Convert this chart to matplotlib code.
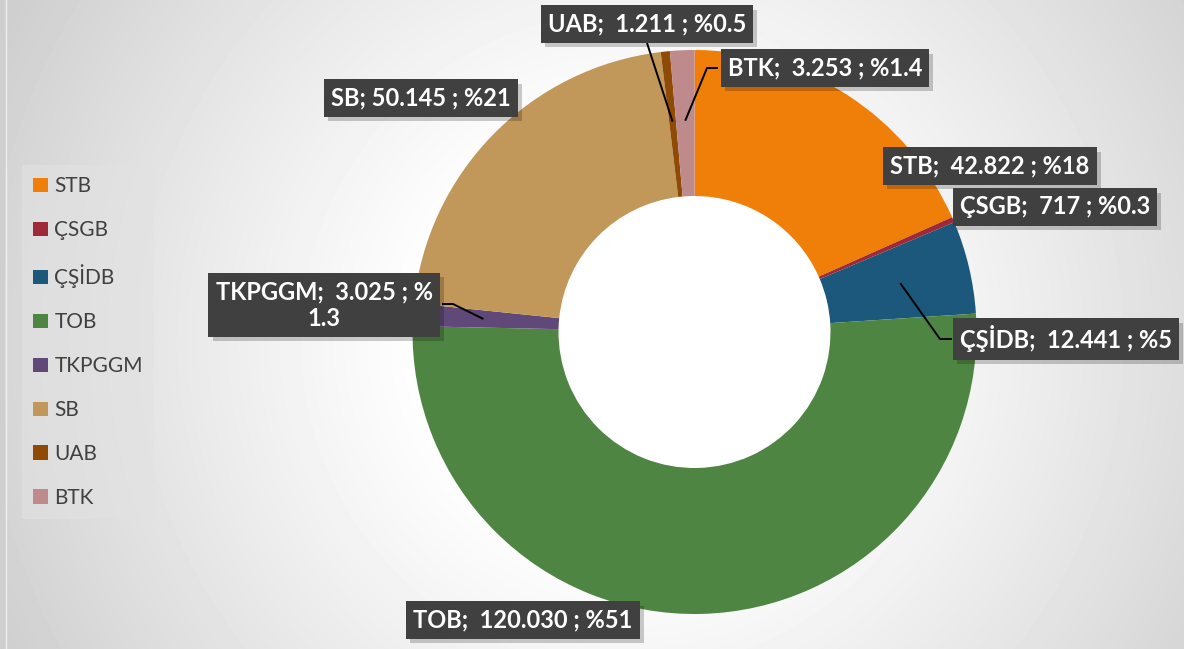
import matplotlib.pyplot as plt
import matplotlib.patheffects as pe
import numpy as np

W, H = 1184, 649

# data
names = ["STB", "ÇSGB", "ÇŞİDB", "TOB", "TKPGGM", "SB", "UAB", "BTK"]
values = [42822, 717, 12441, 120030, 3025, 50145, 1211, 3253]
labels = ["STB;  42.822 ; %18", "ÇSGB;  717 ; %0.3", "ÇŞİDB;  12.441 ; %5",
          "TOB;  120.030 ; %51", "TKPGGM;  3.025 ; %\n1.3", "SB; 50.145 ; %21",
          "UAB;  1.211 ; %0.5", "BTK;  3.253 ; %1.4"]
colors = ["#F07F09", "#9F2936", "#1B587C", "#4E8542", "#604878", "#C19859",
          "#8F4A06", "#BE8A8C"]

# layout (pixel coords, y down)
center = (694.5, 332)
R = 282
hole = 136
label_pos = [(990, 166), (1055, 207), (1066, 339), (523, 620),
             (324, 305), (421, 98), (647, 24), (825, 68)]
# leader lines: points after the anchor inside the wedge
leaders = {2: [(940, 339), (952, 339)],
           4: [(453, 304), (442, 304)],
           6: [(647, 43)],
           7: [(707, 68), (718, 68)]}

fig = plt.figure(figsize=(W / 100, H / 100), dpi=100)
ax = fig.add_axes([0, 0, 1, 1])

# background radial gradient
yy, xx = np.mgrid[0:H, 0:W]
d = np.hypot(xx - 630, yy - 340)
v = 1 - 0.19 * np.clip((d - 200) / 500, 0, 1) ** 1.1
ax.imshow(v, cmap="gray", vmin=0, vmax=1, extent=[0, W, H, 0], zorder=0)
ax.axvspan(0, 5, color="#CFCFCF", zorder=0.5, lw=0)
ax.axvline(5.5, color="#EFEFEF", lw=1, zorder=0.5)

wedges, _ = ax.pie(values, colors=colors, startangle=-90, counterclock=True,
                   center=center, radius=R,
                   wedgeprops=dict(width=R - hole, linewidth=0))
for w in wedges:
    w.set_zorder(2)

ax.set_xlim(0, W)
ax.set_ylim(H, 0)
ax.set_aspect("equal")
ax.axis("off")

# data labels
total = sum(values)
cum = np.cumsum([0] + values[:-1]) / total
mid = cum + np.array(values) / total / 2
for i, (lab, (lx, ly)) in enumerate(zip(labels, label_pos)):
    if i in leaders:
        th = np.deg2rad(-90 + mid[i] * 360)
        px = center[0] + 0.75 * R * np.cos(th)
        py = center[1] + 0.75 * R * np.sin(th)
        pts = [(px, py)] + leaders[i]
        ax.plot([p[0] for p in pts], [p[1] for p in pts], color="black",
                lw=1.4, zorder=3, solid_capstyle="butt")
    t = ax.text(lx, ly, lab, ha="center", va="center", fontsize=17,
                fontweight="bold", family="Lato", color="white", linespacing=1.2,
                bbox=dict(boxstyle="square,pad=0.3", fc="#404040", ec="none"),
                zorder=5)
    t.get_bbox_patch().set_path_effects(
        [pe.withSimplePatchShadow(offset=(3, -3), shadow_rgbFace="black", alpha=0.2)])

leg = ax.legend(wedges, names, loc="upper left",
                bbox_to_anchor=(22 / W, 1 - 165 / H),
                prop=dict(family="Lato", size=15), labelcolor="#404040",
                frameon=True, fancybox=False, facecolor="#E2E2E2",
                edgecolor="none", framealpha=0.6, handlelength=0.7,
                handleheight=0.7, handletextpad=0.3, labelspacing=1.15,
                borderpad=0.55, borderaxespad=0)

fig.savefig("out.png", dpi=100)
